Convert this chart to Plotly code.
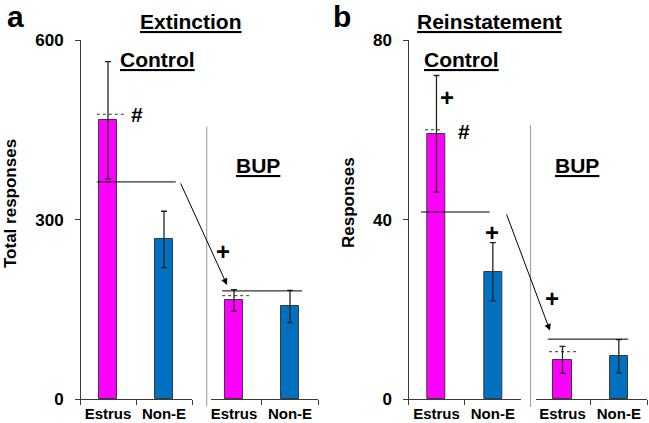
import plotly.graph_objects as go

W, H = 649, 423

# ---- data ----
categories = ["Estrus", "Non-E"]
ext_control_mean = [466, 267]
ext_control_sem = [98, 47]
ext_bup_mean = [165, 155]
ext_bup_sem = [18, 27]

rein_control_mean = [59.1, 28.4]
rein_control_sem = [13.0, 6.5]
rein_bup_mean = [8.8, 9.6]
rein_bup_sem = [3.0, 3.7]

ext_ticks = [0, 300, 600]
rein_ticks = [0, 40, 80]

MAGENTA = "#FF00FF"
BLUE = "#0070C0"
bar_colors = [MAGENTA, BLUE]

FONT = "Liberation Sans, Arial, sans-serif"


def px(x):
    return x / W


def py(y):
    return 1 - y / H


fig = go.Figure()


def add_bars(means, sems, xa, ya):
    fig.add_trace(go.Bar(
        x=categories, y=means, xaxis=xa, yaxis=ya, width=0.32,
        marker=dict(color=bar_colors, line=dict(color="#3a3a3a", width=1)),
        error_y=dict(type="data", array=sems, visible=True,
                     color="#222222", thickness=1.3, width=3),
        showlegend=False, hoverinfo="skip",
    ))


add_bars(ext_control_mean, ext_control_sem, "x", "y")
add_bars(ext_bup_mean, ext_bup_sem, "x2", "y")
add_bars(rein_control_mean, rein_control_sem, "x3", "y2")
add_bars(rein_bup_mean, rein_bup_sem, "x4", "y2")

ydom = [py(399.3), py(40)]
xcommon = dict(type="category", tickson="boundaries", ticks="outside", ticklen=5,
               tickcolor="#3a3a3a", showline=True, linecolor="#3a3a3a", linewidth=1,
               showgrid=False, zeroline=False, fixedrange=True, automargin=False,
               ticklabelstandoff=1,
               tickfont=dict(family=FONT, size=15, color="black", weight="bold"))
ycommon = dict(anchor="free", domain=ydom, ticks="outside", ticklen=5,
               tickcolor="#3a3a3a", showline=True, linecolor="#3a3a3a", linewidth=1,
               showgrid=False, zeroline=False, fixedrange=True, automargin=False,
               ticklabelstandoff=8,
               tickfont=dict(family=FONT, size=17, color="black", weight="bold"))

fig.update_layout(
    width=W, height=H, margin=dict(l=0, r=0, t=0, b=0, autoexpand=False),
    paper_bgcolor="white", plot_bgcolor="rgba(0,0,0,0)",
    xaxis=dict(xcommon, domain=[px(80), px(192)], range=[-0.5, 1.5], anchor="y"),
    xaxis2=dict(xcommon, domain=[px(211), px(318)], range=[-0.41, 1.5], anchor="y"),
    xaxis3=dict(xcommon, domain=[px(408.3), px(521)], range=[-0.5, 1.5], anchor="y2"),
    xaxis4=dict(xcommon, domain=[px(536), px(647)], range=[-0.47, 1.5], anchor="y2"),
    yaxis=dict(ycommon, position=px(80), range=[0, 600], tickvals=ext_ticks),
    yaxis2=dict(ycommon, position=px(408.3), range=[0, 80], tickvals=rein_ticks),
    bargap=0,
)

shapes = []


def hline(xref, yref, x0, x1, y, dash="solid", width=1):
    shapes.append(dict(type="line", xref=xref, yref=yref, x0=x0, x1=x1, y0=y, y1=y,
                       line=dict(color="black", width=width, dash=dash)))


# panel a lines
hline("x", "y", -0.2, 1.21, 363)
hline("x", "y", -0.2, 0.31, 476, dash="dot", width=0.8)
hline("x2", "y", -0.21, 1.215, 181)
hline("x2", "y", -0.21, 0.29, 173, dash="dot", width=0.8)
# panel b lines
hline("x3", "y2", -0.275, 0.945, 41.7)
hline("x3", "y2", -0.204, 0.073, 60.0, dash="dot", width=0.8)
hline("x4", "y2", -0.262, 1.168, 13.4)
hline("x4", "y2", -0.239, 0.27, 10.6, dash="dot", width=0.8)

# gray separators
for xs, y0, y1 in [(206.7, 126.7, 406), (530.5, 125, 407)]:
    shapes.append(dict(type="line", xref="paper", yref="paper", x0=px(xs), x1=px(xs),
                       y0=py(y1), y1=py(y0), line=dict(color="#A6A6A6", width=1.2)))

fig.update_layout(shapes=shapes)

ann = []
# arrows
ann.append(dict(xref="x2", yref="y", x=-0.124, y=191, axref="x2", ayref="y",
                ax=-0.964, ay=363, text="", showarrow=True, arrowhead=2,
                arrowsize=1.3, arrowwidth=1, arrowcolor="black"))
ann.append(dict(xref="x4", yref="y2", x=-0.222, y=15.3, axref="x4", ayref="y2",
                ax=-1.002, ay=41.5, text="", showarrow=True, arrowhead=2,
                arrowsize=1.3, arrowwidth=1, arrowcolor="black"))


def txt(text, x, y, size, xref="paper", yref="paper", angle=0):
    ann.append(dict(text=text, x=x, y=y, xref=xref, yref=yref, showarrow=False,
                    xanchor="center", yanchor="middle", textangle=angle,
                    font=dict(family=FONT, size=size, color="black", weight="bold")))


# significance marks
txt("#", 0.51, 476, 21, "x", "y")
txt("+", -0.196, 246.7, 24, "x2", "y")
txt("#", 0.494, 59.6, 21, "x3", "y2")
txt("+", 0.18, 67.1, 24, "x3", "y2")
txt("+", 0.99, 37.2, 24, "x3", "y2")
txt("+", -0.19, 22.35, 24, "x4", "y2")

# labels
txt("a", px(15), py(16), 30)
txt("b", px(342), py(17), 30)
txt("<u>Extinction</u>", px(191), py(22), 21)
txt("<u>Control</u>", px(157), py(60), 21)
txt("<u>BUP</u>", px(258), py(165), 21)
txt("<u>Reinstatement</u>", px(489), py(22), 21)
txt("<u>Control</u>", px(461.5), py(60), 21)
txt("<u>BUP</u>", px(577), py(165), 21)
txt("Total responses", px(10), py(204), 17, angle=-90)
txt("Responses", px(348), py(203), 17, angle=-90)

fig.update_layout(annotations=ann)

fig.write_html("out.html", config={"displayModeBar": False},
               post_script="document.body.style.margin='0';document.body.style.overflow='hidden';")
